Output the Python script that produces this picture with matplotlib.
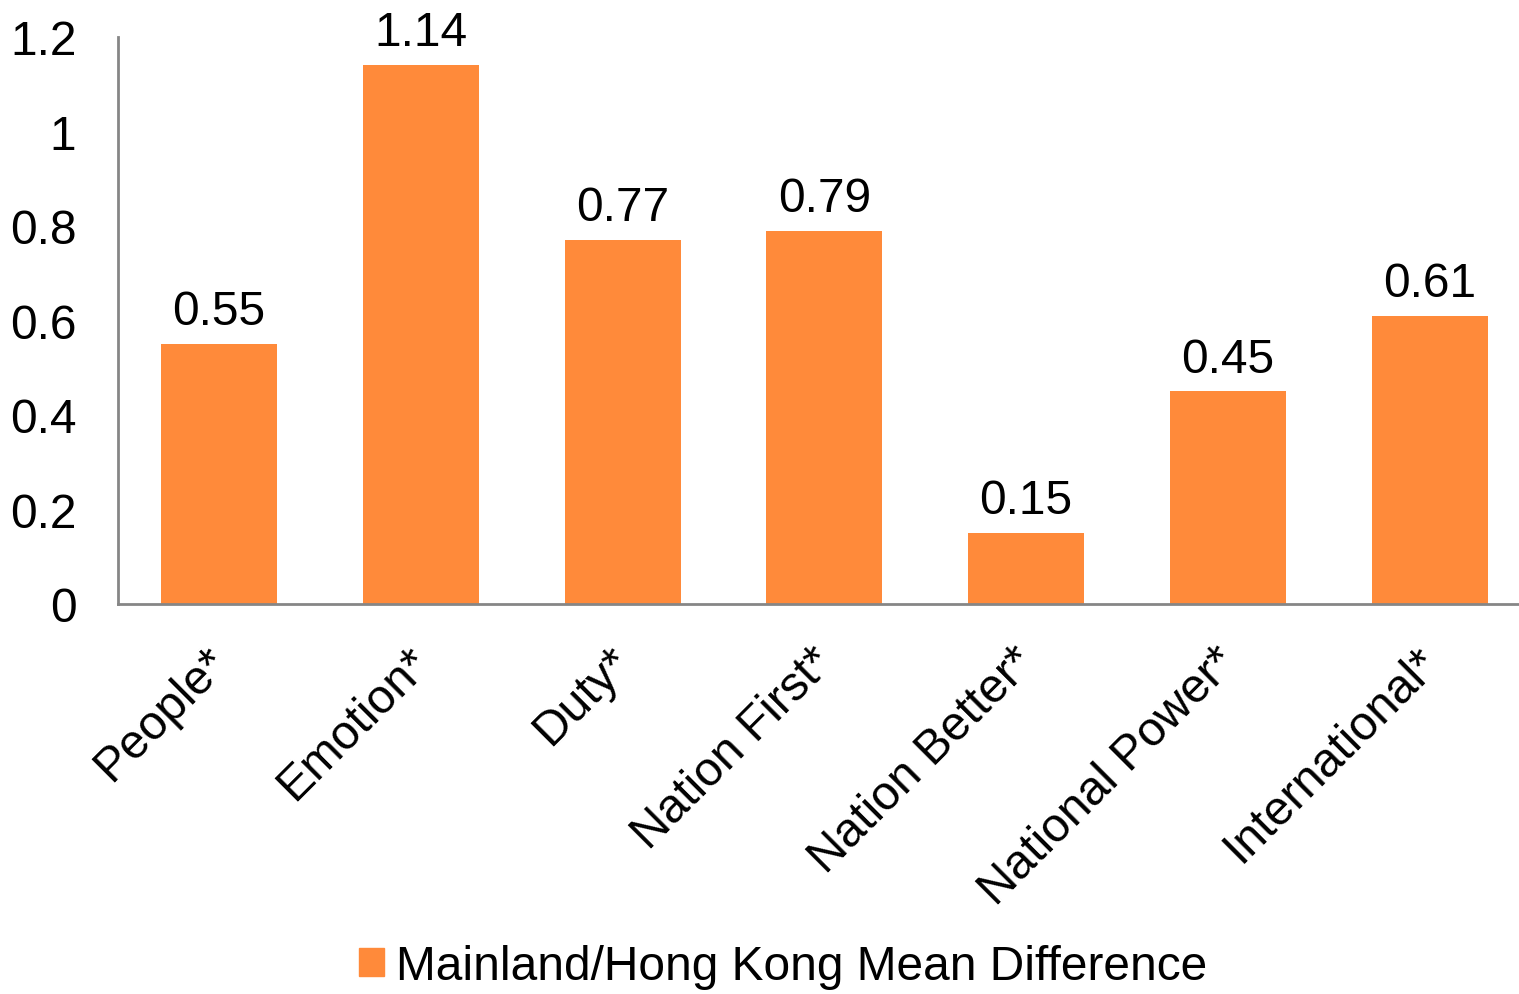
import matplotlib
matplotlib.use("Agg")
import matplotlib.pyplot as plt
from matplotlib.patches import Patch
from matplotlib.transforms import ScaledTranslation

categories = ["People*", "Emotion*", "Duty*", "Nation First*", "Nation Better*",
              "National Power*", "International*"]
values = [0.55, 1.14, 0.77, 0.79, 0.15, 0.45, 0.61]
value_labels = ["0.55", "1.14", "0.77", "0.79", "0.15", "0.45", "0.61"]
yticks = [0, 0.2, 0.4, 0.6, 0.8, 1.0, 1.2]
ytick_labels = ["0", "0.2", "0.4", "0.6", "0.8", "1", "1.2"]
series_name = "Mainland/Hong Kong Mean Difference"

plt.rcParams['font.family'] = ['Liberation Sans', 'DejaVu Sans']
color = "#FF8A3A"
fs = 34.5

fig = plt.figure(figsize=(15.19, 9.95), dpi=100)
ax = fig.add_axes([0.0777, 0.392, 0.930, 0.570])
x = list(range(len(categories)))
ax.bar(x, values, width=0.575, color=color)
ax.set_xlim(-0.5, len(categories) - 0.5)
ax.set_ylim(0, 1.2)
ax.set_yticks(yticks)
ax.set_yticklabels(ytick_labels, fontsize=fs)
ax.set_xticks(x)
ax.set_xticklabels(categories, fontsize=fs, rotation=45, ha='right',
                   rotation_mode='anchor')
ax.tick_params(axis='x', length=0, pad=25)
ax.tick_params(axis='y', length=0, pad=30)
offset = ScaledTranslation(-14 / 100, 0, fig.dpi_scale_trans)
for lab in ax.get_xticklabels():
    lab.set_transform(lab.get_transform() + offset)
for s in ['top', 'right']:
    ax.spines[s].set_visible(False)
for s in ['left', 'bottom']:
    ax.spines[s].set_color('#868686')
    ax.spines[s].set_linewidth(2)
for xi, v, lab in zip(x, values, value_labels):
    ax.annotate(lab, (xi, v), xytext=(0, 7), textcoords='offset points',
                ha='center', va='bottom', fontsize=fs)
fig.legend(handles=[Patch(color=color, label=series_name)], loc='lower center',
           bbox_to_anchor=(0.5155, -0.038), frameon=False, fontsize=fs,
           handlelength=0.52, handleheight=0.52, handletextpad=0.25)
fig.savefig("out.png", dpi=100)
